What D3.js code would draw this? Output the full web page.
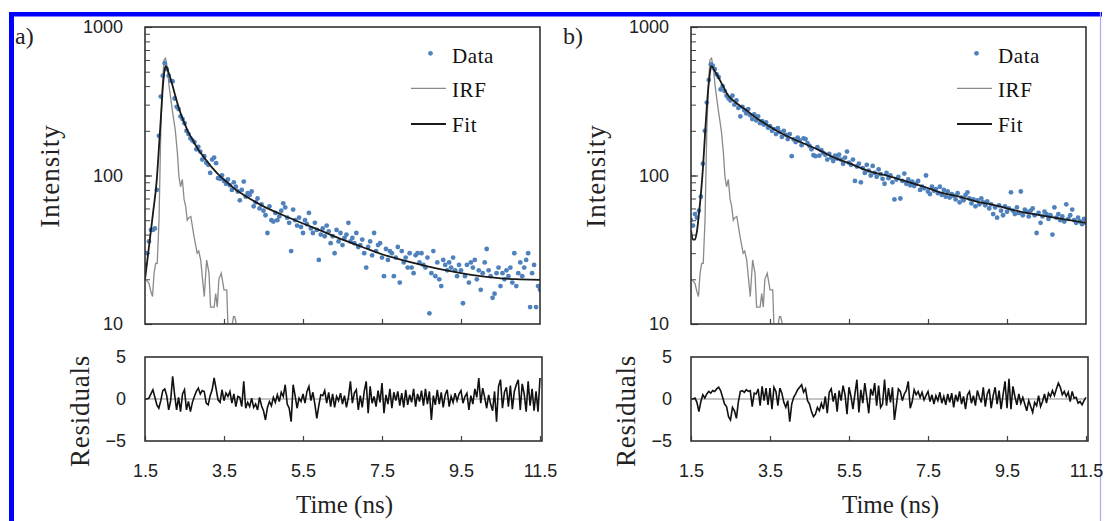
<!DOCTYPE html>
<html><head><meta charset="utf-8">
<script src="https://cdn.jsdelivr.net/npm/d3@7"></script>
<style>body{margin:0;background:#fff}svg{display:block}</style>
</head><body>
<svg id="c" width="1105" height="521"></svg>
<script>
// ---------- DATA ----------
const tStart = 1.5, tStep = 0.05;   // time grid of the measured points (ns)
const xTicks = [1.5, 3.5, 5.5, 7.5, 9.5, 11.5];
const yTicksMajor = [10, 100, 1000];
const rTicks = [-5, 0, 5];

const dataA = [25,30,36,43,43,44,80,185,340,470,
570,520,470,435,430,330,290,280,250,240,
225,200,190,178,172,168,150,156,145,128,
135,122,118,104,128,132,121,96,95,100,
92,88,94,86,80,90,84,78,68,80,
91,72,76,74,78,62,66,70,60,64,
58,54,41,62,50,49,56,50,53,58,
65,61,52,48,31,59,50,46,52,45,
41,50,47,56,44,41,48,43,27,40,
44,39,46,42,35,39,30,43,36,41,
34,38,40,48,36,38,35,41,33,34,
37,30,24,33,36,29,41,31,34,35,
28,21,32,27,31,30,21,28,33,19,
31,26,28,24,30,24,22,29,30,26,
30,25,24,28,11.8,22,31,21,26,20,
18,27,25,23,26,24,28,23,21,25,
23,13.8,21,25,19,26,24,27,20,23,
17,22,26,32,23,21,15,16,22,24,
18,22,20,23,21,24,19,30,18,22,
26,21,24,27,30,13,22,25,13,18,17];

const dataB = [50,46,55,52,58,72,120,200,310,440,
560,550,520,480,460,380,400,370,345,330,
320,345,300,320,285,250,290,275,262,280,
255,240,258,235,250,225,232,220,228,210,
215,200,205,190,208,196,182,200,188,176,
190,135,175,168,180,172,160,178,176,165,
158,150,137,135,155,136,148,142,138,128,
140,132,125,136,130,138,128,120,132,145,
122,118,128,92,115,120,90,112,104,118,
108,100,116,104,98,110,102,95,88,104,
96,100,90,69,94,98,70,92,103,88,
94,86,91,85,88,92,80,84,82,100,
78,75,84,79,81,76,84,74,80,72,
78,71,75,73,69,76,66,71,68,74,
77,70,65,69,62,68,64,70,66,63,
67,60,64,55,61,52,63,58,54,62,
57,60,77,58,55,61,56,78,54,59,
57,53,58,60,54,41,56,48,53,57,
55,51,54,40,61,52,55,50,53,49,
64,51,54,59,50,48,52,49,47,51,48];

const fitAT = [1.5,1.6,1.7,1.8,1.85,1.9,1.95,2.0,2.03,2.1,2.2,2.3,2.4,2.5,2.6,2.7,2.8,2.9,3.0,3.2,3.4,3.6,3.8,4.0,4.5,5.0,5.5,6.0,6.5,7.0,7.5,8.0,8.5,9.0,9.5,10.0,10.5,11.0,11.5];
const fitAV = [20,33,55,95,150,240,390,520,545,490,400,320,263,225,195,175,157,143,132,113,99,89,80,74,62,54,47.5,42,37,33,29.5,27,25,23.3,22,21,20.3,20,19.8];

const fitBT = [1.5,1.55,1.6,1.65,1.7,1.75,1.8,1.85,1.9,1.95,2.0,2.02,2.1,2.2,2.3,2.42,2.6,2.87,3.1,3.32,3.7,4.22,4.7,5.12,5.5,6.01,6.5,6.91,7.4,7.81,8.3,8.71,9.2,9.61,10.0,10.51,11.0,11.5];
const fitBV = [43,37,37,42,55,75,110,180,290,420,530,545,505,455,405,352,315,279,250,228,198,170,150,132,121,107,99,92,84,77,72,67,63,59,56,53,50.5,48];

const irfT = [1.5,1.55,1.6,1.65,1.69,1.73,1.77,1.81,1.855,1.9,1.94,1.98,2.02,2.07,2.11,2.19,2.27,2.32,2.36,2.40,2.445,2.49,2.53,2.57,2.61,2.66,2.74,2.82,2.86,2.91,3.0,3.06,3.12,3.16,3.25,3.29,3.33,3.37,3.43,3.5,3.57,3.61,3.66,3.71,3.74,3.77,3.8,3.85,4.0];
const irfV = [20,19.5,18.8,16.5,15.3,22,25.6,25.6,50,203,400,600,617,520,400,278,198,142,98,84,94,69,62,50,52,53,39,30,31,27,15.3,27,22,13,13,16,13,20,22,17,17,8,6,10,11.2,11.2,10.4,6,5];

const residA = [0,0,0.1,0.6,1.1,0.2,-0.7,-1.1,-0.2,1.0,
1.2,0.4,-1.3,-0.2,2.7,0.5,-1.3,0.2,-1.5,0.6,
1.1,-1.3,-0.3,-1.5,-0.4,0.3,0.9,1.3,0.6,1.0,
0.9,-0.5,-0.7,0.4,1.1,2.5,1.2,-0.1,-0.4,1.1,
-0.2,0.7,0.3,0.9,-0.5,0.6,-0.9,0.3,0.2,-0.9,
2.1,-1.1,-0.4,-0.9,0.1,-1.0,-0.6,-1.3,0.2,-0.8,
-1.4,-2.5,-1.0,-0.3,-0.8,0.2,-0.4,0.5,-0.3,0.8,
0.3,1.7,-0.6,-1.1,-2.7,1.7,0.4,-1.1,0.1,-0.3,
0.6,-0.5,0.9,1.5,-0.2,0.8,-0.6,-2.3,-0.8,0.5,
0.4,1.0,-0.5,0.8,-0.9,0.6,-1.0,0.3,-0.2,0.7,
-0.6,0.4,-1.0,0.2,2.1,-0.5,0.7,1.1,-1.3,0.4,
-1.0,0.9,2.1,-1.7,1.5,-0.5,0.3,-0.9,1.0,-0.4,
1.9,-1.7,0.5,-0.6,1.2,-1.1,0.8,-0.2,0.9,-0.8,
0.7,-1.0,1.1,-0.7,0.5,-0.4,1.2,-0.9,0.6,-0.3,
1.0,-0.8,1.2,-0.6,0.9,-2.5,0.4,-0.7,1.1,-0.6,
0.8,-1.0,0.5,1.1,-0.9,0.3,-0.4,0.7,-0.2,0.6,
1.0,-0.5,0.3,0.7,-1.3,0.4,-0.6,1.2,0.2,2.5,
-0.5,1.3,0.2,-1.1,0.5,-0.6,-1.4,0.9,-2.7,1.5,
2.3,-1.1,0.8,1.4,-0.9,1.6,-1.2,0.9,1.7,2.3,
-1.3,1.8,0.6,-1.5,2.1,-0.8,1.2,-1.4,0.9,-1.5,2.5];

const residB = [0,0,0.1,-0.4,-1.5,-0.3,0.5,0.1,0.6,0.9,
0.7,1.0,0.9,1.2,1.4,1.0,0.2,-0.6,-0.9,-2.1,
-2.5,-1.0,-1.4,-2.3,-0.3,0.9,1.0,0.8,1.1,0.9,
1.0,-0.9,0.7,0.6,1.2,-0.8,1.5,-0.2,1.3,-0.7,
1.3,-1.2,1.4,0.9,-0.8,1.3,0.7,-0.4,-1.0,-0.2,
-2.7,-0.6,0.2,0.6,1.1,1.4,1.7,0.8,1.2,-0.2,
-0.6,-1.5,-2.1,-1.8,-1.0,-1.4,-0.5,-1.2,0.3,-1.7,
0.8,1.2,-0.3,0.7,-1.5,1.0,-0.2,1.6,0.5,-1.8,
1.4,0.3,-1.2,0.6,2.3,-1.6,1.1,-0.5,1.9,0.2,
-1.7,1.2,0.4,1.9,-0.8,1.6,-1.0,-0.6,2.3,-0.8,
1.3,-0.4,1.4,-2.5,-0.7,1.2,0.9,-0.2,0.6,1.0,
2.1,-1.1,-0.3,1.1,0.5,0.9,0.2,0.8,-0.1,0.4,
0.9,-0.3,0.5,-0.6,0.4,-0.2,0.8,-0.5,0.3,-0.7,
0.6,-0.4,0.7,-1.0,0.5,-0.3,0.9,-0.6,0.3,-1.2,
0.5,0.9,-0.5,0.4,-0.8,1.0,0.2,-0.4,1.4,-0.9,
0.6,1.2,-1.1,0.4,1.4,-0.6,1.0,-1.2,0.5,2.1,
-1.1,2.4,-1.2,1.5,0.3,-0.7,0.6,-0.5,0.2,-0.6,
-1.4,-0.2,-0.9,-1.6,-0.4,-0.8,0.4,-0.9,-0.3,0.6,
-0.5,0.7,0.3,1.0,0.4,1.2,1.9,1.4,0.5,0.9,
0.3,0.8,-0.3,0.9,0.1,0.2,-0.5,-0.3,-0.7,-0.2,0.2];

const legendItems = ["Data", "IRF", "Fit"];

// ---------- DRAWING ----------
const svg = d3.select('#c');
const SERIF = "'Liberation Serif','Times New Roman',serif";
const SANS = "'Liberation Sans',Arial,sans-serif";
const DOT = "#4f81bd";

// blue border
svg.append('line').attr('x1',9).attr('x2',1102).attr('y1',14.3).attr('y2',14.3).attr('stroke','#0000ff').attr('stroke-width',4.6);
svg.append('line').attr('x1',11.5).attr('x2',11.5).attr('y1',12).attr('y2',521).attr('stroke','#0000ff').attr('stroke-width',5);
svg.append('line').attr('x1',1100.5).attr('x2',1100.5).attr('y1',12).attr('y2',521).attr('stroke','#a8a8ff').attr('stroke-width',1.2);

function panel(off, letter, data, fitT, fitV, resid, id) {
  const x0 = 145 + off, x1 = 540 + off;
  const yT = 27, yB = 324, rT = 357, rB = 441;
  const x = d3.scaleLinear().domain([1.5, 11.5]).range([x0, x1]);
  const y = d3.scaleLog().domain([10, 1000]).range([yB, yT]);
  const r = d3.scaleLinear().domain([-5, 5]).range([rB, rT]);
  const g = svg.append('g');

  g.append('clipPath').attr('id', 'clip' + id).append('rect')
    .attr('x', x0).attr('y', yT).attr('width', x1 - x0).attr('height', yB - yT);

  // minor + major y ticks (inward)
  const allTicks = y.ticks();
  const ax1 = g.append('g').attr('transform', `translate(${x0},0)`)
    .call(d3.axisLeft(y).tickValues(allTicks).tickSize(-5).tickFormat(''));
  ax1.select('.domain').remove();
  ax1.selectAll('line').attr('stroke', '#444').attr('stroke-width', 1);
  const ax2 = g.append('g').attr('transform', `translate(${x0},0)`)
    .call(d3.axisLeft(y).tickValues(yTicksMajor).tickSize(-7).tickPadding(22).tickFormat(d3.format('d')));
  ax2.select('.domain').remove();
  ax2.selectAll('line').attr('stroke', '#444').attr('stroke-width', 1.2);
  ax2.selectAll('text').attr('font-family', SANS).attr('font-size', 18).attr('fill', '#222');

  // x ticks top panel (inward)
  const ax3 = g.append('g').attr('transform', `translate(0,${yB})`)
    .call(d3.axisBottom(x).tickValues(xTicks.slice(1, -1)).tickSize(-5).tickFormat(''));
  ax3.select('.domain').remove();
  ax3.selectAll('line').attr('stroke', '#444').attr('stroke-width', 1.2);

  const plot = g.append('g').attr('clip-path', `url(#clip${id})`);
  // IRF
  plot.append('path').datum(irfT.map((t, i) => [t, irfV[i]]))
    .attr('fill', 'none').attr('stroke', '#8a8a8a').attr('stroke-width', 1.3)
    .attr('d', d3.line().x(d => x(d[0])).y(d => y(Math.max(d[1], 1))));
  // data points
  plot.selectAll('circle').data(data).join('circle')
    .attr('cx', (d, i) => x(tStart + i * tStep)).attr('cy', d => y(d))
    .attr('r', 2.4).attr('fill', DOT);
  // fit
  plot.append('path').datum(fitT.map((t, i) => [t, fitV[i]]))
    .attr('fill', 'none').attr('stroke', '#1a1a1a').attr('stroke-width', 1.8)
    .attr('d', d3.line().curve(d3.curveMonotoneX).x(d => x(d[0])).y(d => y(d[1])));

  // frame
  g.append('rect').attr('x', x0).attr('y', yT).attr('width', x1 - x0).attr('height', yB - yT)
    .attr('fill', 'none').attr('stroke', '#333').attr('stroke-width', 1.6);

  // legend
  const lx = 411 + off;
  const lg = g.append('g');
  lg.append('circle').attr('cx', lx + 19.5).attr('cy', 53.3).attr('r', 2.4).attr('fill', DOT);
  lg.append('line').attr('x1', lx).attr('x2', lx + 35).attr('y1', 88.3).attr('y2', 88.3)
    .attr('stroke', '#8a8a8a').attr('stroke-width', 1.3);
  lg.append('line').attr('x1', lx).attr('x2', lx + 35).attr('y1', 124).attr('y2', 124)
    .attr('stroke', '#1a1a1a').attr('stroke-width', 1.8);
  lg.selectAll('text').data(legendItems).join('text')
    .attr('x', lx + 41).attr('y', (d, i) => 63 + i * 34.3)
    .attr('font-family', SERIF).attr('font-size', 21).attr('letter-spacing', 0.6).attr('fill', '#111')
    .text(d => d);

  // residual panel
  g.append('line').attr('x1', x0).attr('x2', x1).attr('y1', r(0)).attr('y2', r(0))
    .attr('stroke', '#8a8a8a').attr('stroke-width', 1.1);
  g.append('path').datum(resid)
    .attr('fill', 'none').attr('stroke', '#111').attr('stroke-width', 1.6)
    .attr('d', d3.line().x((d, i) => x(tStart + i * tStep)).y(d => r(d)));
  const ax4 = g.append('g').attr('transform', `translate(0,${rB})`)
    .call(d3.axisBottom(x).tickValues(xTicks).tickSize(-5).tickPadding(23).tickFormat(d3.format('.1f')));
  ax4.select('.domain').remove();
  ax4.selectAll('line').attr('stroke', '#444').attr('stroke-width', 1.2);
  ax4.selectAll('text').attr('font-family', SANS).attr('font-size', 18).attr('fill', '#222');
  const ax5 = g.append('g').attr('transform', `translate(${x0},0)`)
    .call(d3.axisLeft(r).tickValues(rTicks).tickSize(0).tickPadding(19).tickFormat(d3.format('d')));
  ax5.select('.domain').remove();
  ax5.selectAll('text').attr('font-family', SANS).attr('font-size', 18).attr('fill', '#222');
  g.append('rect').attr('x', x0).attr('y', rT).attr('width', x1 - x0 + 2).attr('height', rB - rT)
    .attr('fill', 'none').attr('stroke', '#333').attr('stroke-width', 1.6);

  // labels
  g.append('text').attr('transform', `translate(${59 + off},176) rotate(-90)`)
    .attr('text-anchor', 'middle').attr('font-family', SERIF).attr('font-size', 27)
    .attr('letter-spacing', 1).attr('fill', '#222').text('Intensity');
  g.append('text').attr('transform', `translate(${89 + off},411) rotate(-90)`)
    .attr('text-anchor', 'middle').attr('font-family', SERIF).attr('font-size', 27)
    .attr('letter-spacing', 0.8).attr('fill', '#222').text('Residuals');
  g.append('text').attr('x', (x0 + x1) / 2 + 2).attr('y', 513)
    .attr('text-anchor', 'middle').attr('font-family', SERIF).attr('font-size', 25)
    .attr('fill', '#222').text('Time (ns)');
  g.append('text').attr('x', 15 + off + (off ? 2 : 0)).attr('y', 44)
    .attr('font-family', SERIF).attr('font-size', 24).attr('fill', '#222').text(letter);
}

panel(0, 'a)', dataA, fitAT, fitAV, residA, 'A');
panel(546, 'b)', dataB, fitBT, fitBV, residB, 'B');
</script>
</body></html>
